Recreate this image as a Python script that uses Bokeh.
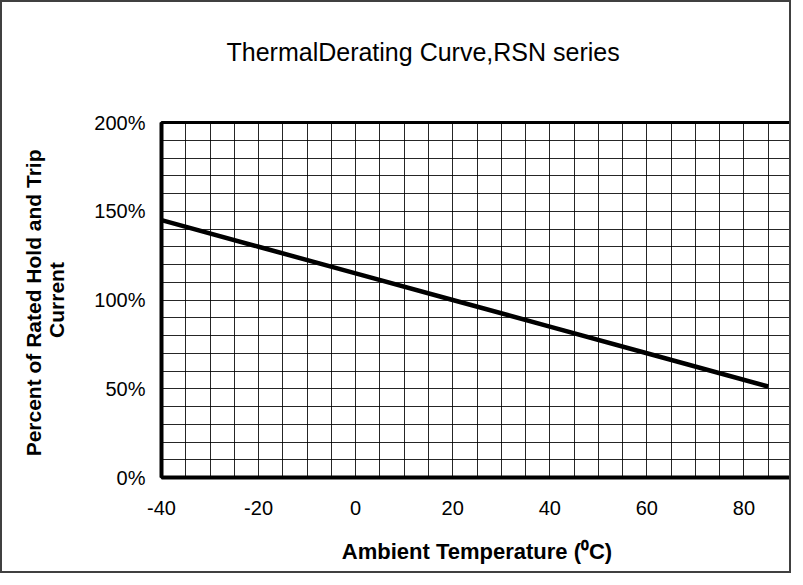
from bokeh.plotting import figure
from bokeh.models import FixedTicker, PrintfTickFormatter, Range1d, Title
from bokeh.embed import file_html
from bokeh.resources import INLINE

# Data
temperature_c = [-40, -20, 0, 20, 40, 60, 85]
percent_rated = [145, 130, 115, 100, 85, 70, 51.25]
x_tick_labels = [-40, -20, 0, 20, 40, 60, 80]
y_tick_labels = [0, 50, 100, 150, 200]
x_grid_lines = list(range(-40, 91, 5))
y_grid_lines = list(range(0, 201, 10))
title_text = "ThermalDerating Curve,RSN series"

FONT = "Liberation Sans"

p = figure(width=791, height=573, output_backend="svg", toolbar_location=None,
           x_range=Range1d(-40, 90), y_range=Range1d(0, 200),
           min_border_left=159, min_border_right=1, min_border_top=120,
           min_border_bottom=98)

p.styles = {"border": "2px solid #404040"}

# spacer between frame and title, then the title itself (outermost)
p.add_layout(Title(text=" ", text_font_size="1px", standoff=49), "above")
p.add_layout(Title(text=title_text, text_font=FONT, text_font_size="25px",
                   text_font_style="normal", text_color="black",
                   align="left", offset=65, standoff=10), "above")

p.outline_line_color = "black"
p.outline_line_width = 3
p.background_fill_color = "white"
p.border_fill_color = "white"

# grid
p.xgrid.ticker = FixedTicker(ticks=x_grid_lines)
p.ygrid.ticker = FixedTicker(ticks=y_grid_lines)
for g in (p.xgrid, p.ygrid):
    g.grid_line_color = "black"
    g.grid_line_width = 1
    g.grid_line_alpha = 0.85

# axes
p.xaxis.ticker = FixedTicker(ticks=x_tick_labels)
p.xaxis.formatter = PrintfTickFormatter(format="%d")
p.yaxis.ticker = FixedTicker(ticks=y_tick_labels)
p.yaxis.formatter = PrintfTickFormatter(format="%d%%")
for ax in (p.xaxis, p.yaxis):
    ax.axis_line_color = "black"
    ax.axis_line_width = 4
    ax.major_tick_out = 0
    ax.major_tick_in = 0
    ax.minor_tick_out = 0
    ax.minor_tick_in = 0
    ax.major_label_text_font = FONT
    ax.major_label_text_font_size = "20px"
    ax.major_label_text_color = "black"
    ax.axis_label_text_font = FONT
    ax.axis_label_text_font_style = "bold"
    ax.axis_label_text_color = "black"

p.xaxis.axis_label_text_font_size = "22px"
p.yaxis.axis_label_text_font_size = "21px"
p.xaxis.major_label_standoff = 23
p.yaxis.major_label_standoff = 16
p.xaxis.axis_label = "Ambient Temperature (\u2070C)"
p.xaxis.axis_label_standoff = 21
p.yaxis.axis_label = "Percent of Rated Hold  and Trip\nCurrent"
p.yaxis.axis_label_standoff = 23
p.yaxis.axis_label_text_line_height = 1.0

p.line(temperature_c, percent_rated, line_color="black", line_width=4.5)

open("out.html", "w").write(file_html(p, INLINE))
